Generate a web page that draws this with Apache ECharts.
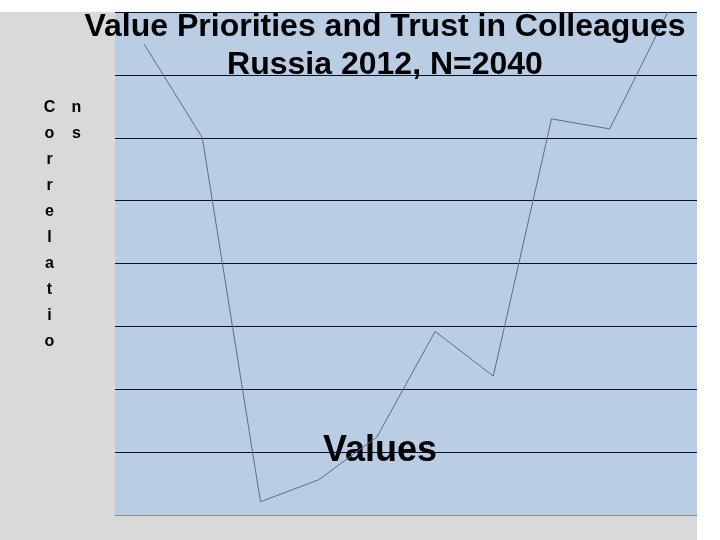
<!DOCTYPE html>
<html>
<head>
<meta charset="utf-8">
<script src="https://cdn.jsdelivr.net/npm/echarts@6/dist/echarts.min.js"></script>
<style>
html,body{margin:0;padding:0;background:#ffffff;}
#chart{width:720px;height:540px;}
</style>
</head>
<body>
<div id="chart"></div>
<script>
// Ten basic values (category axis, labels not shown in the picture)
const categories = ['Self-Direction','Stimulation','Hedonism','Achievement','Power','Security','Conformity','Tradition','Benevolence','Universalism'];
// Correlation values in grid units (0 = bottom, 8 = top)
const correlations = [7.49, 6.0, 0.21, 0.56, 1.24, 2.92, 2.21, 6.30, 6.14, 8.0];
const yMin = 0, yMax = 8, yStep = 1;

const chart = echarts.init(document.getElementById('chart'), null, {renderer: 'canvas'});
const richBox = {width: 27, align: 'center', fontSize: 16, fontWeight: 'bold', lineHeight: 26, color: '#000', fontFamily: 'Liberation Sans, Arial, sans-serif'};
const option = {
  animation: false,
  backgroundColor: '#ffffff',
  graphic: [{
    type: 'rect', z: -10, silent: true,
    shape: {x: 0, y: 12, width: 697, height: 528},
    style: {fill: '#d9d9d9'}
  }],
  title: {
    text: 'Value Priorities and Trust in Colleagues\nRussia 2012, N=2040',
    left: 385, top: 8, padding: 0,
    textAlign: 'center',
    z: 10,
    textStyle: {
      fontFamily: 'Liberation Sans, Arial, sans-serif',
      fontSize: 32, fontWeight: 'bold', color: '#000000', lineHeight: 38
    }
  },
  grid: {
    left: 115, right: 23, top: 12, bottom: 25,
    show: true, backgroundColor: '#b9cde5', borderWidth: 0
  },
  xAxis: {
    type: 'category', data: categories, boundaryGap: true,
    axisLabel: {show: false}, axisTick: {show: false},
    axisLine: {show: true, lineStyle: {color: '#8c8c8c', width: 1}},
    name: 'Values', nameLocation: 'middle', nameGap: -82,
    nameTextStyle: {
      fontFamily: 'Liberation Sans, Arial, sans-serif',
      fontSize: 36, fontWeight: 'bold', color: '#000000',
      padding: [0, 52, 0, 0]
    }
  },
  yAxis: {
    type: 'value', min: yMin, max: yMax, interval: yStep,
    axisLabel: {show: false}, axisTick: {show: false}, axisLine: {show: false},
    splitLine: {show: true, lineStyle: {color: '#0d1326', width: 1}},
    name: '{a|C}{b|n}\n{a|o}{b|s}\n{a|r}{b| }\n{a|r}{b| }\n{a|e}{b| }\n{a|l}{b| }\n{a|a}{b| }\n{a|t}{b| }\n{a|i}{b| }\n{a|o}{b| }',
    nameLocation: 'middle', nameRotate: 0, nameGap: 25,
    nameTextStyle: {
      fontFamily: 'Liberation Sans, Arial, sans-serif',
      fontSize: 16, fontWeight: 'bold', color: '#000000',
      lineHeight: 26,
      padding: [0, 0, 77, 0],
      rich: {a: richBox, b: richBox}
    }
  },
  series: [{
    type: 'line', data: correlations,
    symbol: 'none', smooth: false, clip: false,
    lineStyle: {color: '#56708f', width: 1}
  }]
};
chart.setOption(option);
</script>
</body>
</html>
